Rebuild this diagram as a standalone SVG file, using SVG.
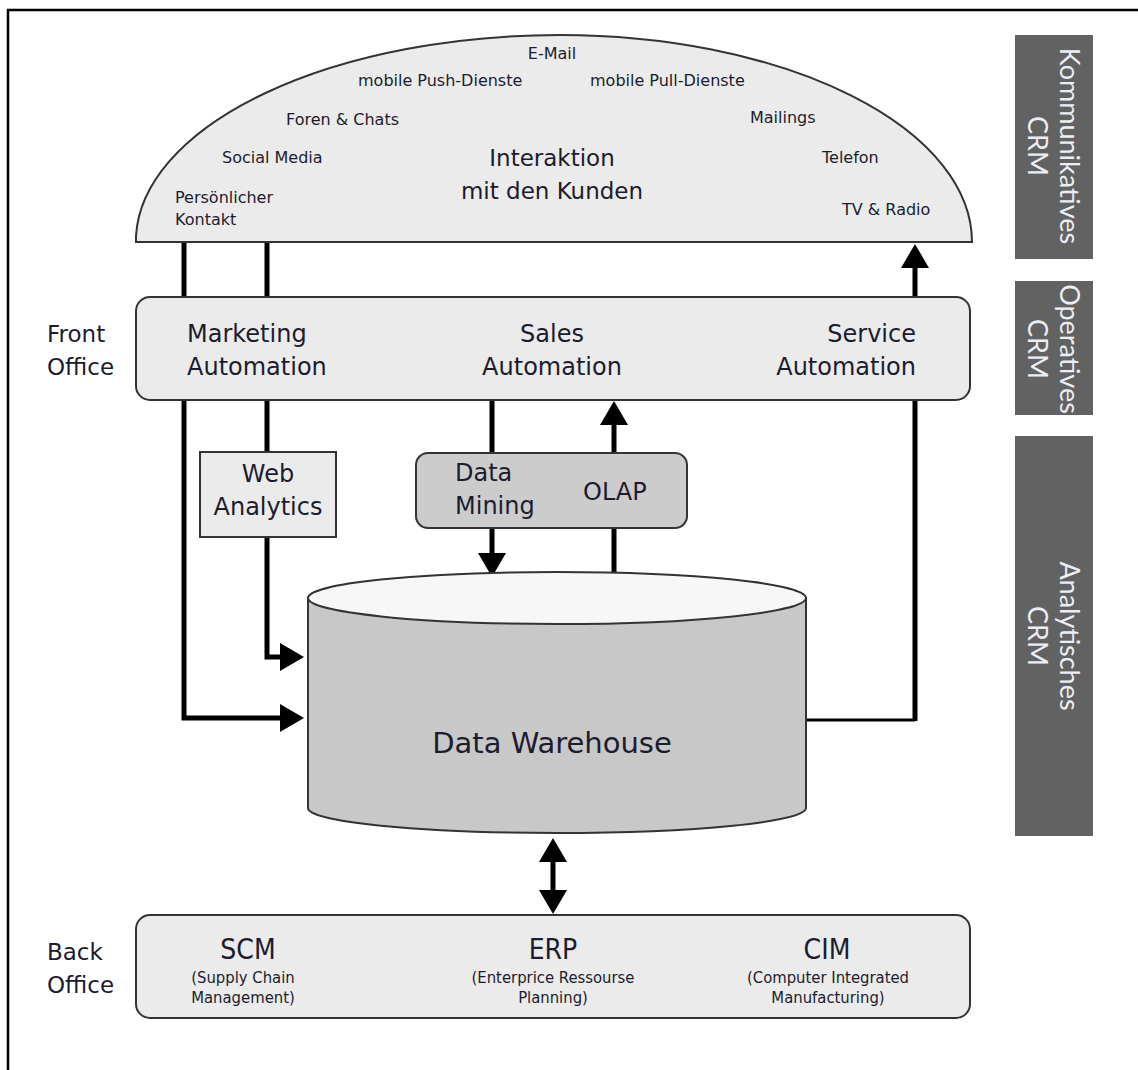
<svg xmlns="http://www.w3.org/2000/svg" width="1138" height="1070" viewBox="0 0 1138 1070">
<style>
.box{fill:#ebebeb;stroke:#333;stroke-width:2}
.dark{fill:#cccccc;stroke:#333;stroke-width:2}
.t{font-family:"DejaVu Sans",Verdana,sans-serif;fill:#1c1c2e}
.sm{font-size:16px}
.md{font-size:24px}
.bar{fill:#626262}
.bt{font-family:Lato,"Open Sans",sans-serif;font-size:27px;fill:#eceef4;text-anchor:middle}
.cn{font-family:"DejaVu Sans Condensed","DejaVu Sans",sans-serif;font-stretch:condensed;fill:#1c1c2e;text-anchor:middle}
.ln{fill:none;stroke:#000;stroke-width:5;stroke-linejoin:miter}
</style>
<defs>
<marker id="ah" markerUnits="userSpaceOnUse" markerWidth="24" markerHeight="28" refX="0" refY="14" orient="auto-start-reverse">
<path d="M0,0 L24,14 L0,28 Z" fill="#000"/>
</marker>
</defs>
<rect width="1138" height="1070" fill="#fff"/>
<path d="M8,1070 V10 H1138" fill="none" stroke="#000" stroke-width="2.5"/>

<g id="connectors">
<path class="ln" d="M184,242 V718 H280" marker-end="url(#ah)"/>
<path class="ln" d="M267,242 V657 H280" marker-end="url(#ah)"/>
<path class="ln" d="M492,400 V553" marker-end="url(#ah)"/>
<path class="ln" d="M614,574 V425" marker-end="url(#ah)"/>
<path d="M806,720 H915" fill="none" stroke="#000" stroke-width="3"/>
<path class="ln" d="M915,721 V268" marker-end="url(#ah)"/>
<path class="ln" d="M553,862 V890" marker-start="url(#ah)" marker-end="url(#ah)"/>
</g>

<g id="dome">
<path class="box" d="M136,242 L136,236 A424,207 0 0 1 560,35 A412,207 0 0 1 972,242 Z"/>
<g class="t sm">
<text x="552" y="59" text-anchor="middle">E-Mail</text>
<text x="358" y="86">mobile Push-Dienste</text>
<text x="590" y="86">mobile Pull-Dienste</text>
<text x="286" y="125">Foren &amp; Chats</text>
<text x="750" y="123">Mailings</text>
<text x="222" y="163">Social Media</text>
<text x="822" y="163">Telefon</text>
<text x="175" y="203">Persönlicher</text>
<text x="175" y="225">Kontakt</text>
<text x="842" y="215">TV &amp; Radio</text>
</g>
<g class="t" font-size="23" text-anchor="middle">
<text x="552" y="166">Interaktion</text>
<text x="552" y="199">mit den Kunden</text>
</g>
</g>

<g id="front-office">
<rect class="box" x="136" y="297" width="834" height="103" rx="14"/>
<g class="t md">
<text x="47" y="342" font-size="23">Front</text>
<text x="47" y="375" font-size="23">Office</text>
<text x="187" y="342">Marketing</text>
<text x="187" y="375">Automation</text>
<text x="552" y="342" text-anchor="middle">Sales</text>
<text x="552" y="375" text-anchor="middle">Automation</text>
<text x="916" y="342" text-anchor="end">Service</text>
<text x="916" y="375" text-anchor="end">Automation</text>
</g>
</g>

<g id="web-analytics">
<rect class="box" x="200" y="452" width="136" height="85"/>
<g class="t md" text-anchor="middle">
<text x="268" y="482">Web</text>
<text x="268" y="515">Analytics</text>
</g>
</g>

<g id="data-mining-olap">
<rect class="dark" x="416" y="453" width="271" height="75" rx="12"/>
<g class="t md">
<text x="455" y="481">Data</text>
<text x="455" y="514">Mining</text>
<text x="583" y="500">OLAP</text>
</g>
</g>

<g id="data-warehouse">
<path d="M308,598 V808 A249,25 0 0 0 806,808 V598 Z" fill="#c8c8c8" stroke="#333" stroke-width="2"/>
<ellipse cx="557" cy="598" rx="249" ry="26" fill="#f7f7f7" stroke="#333" stroke-width="2"/>
<text class="t" x="552" y="753" font-size="29" text-anchor="middle">Data Warehouse</text>
</g>

<g id="back-office">
<rect class="box" x="136" y="915" width="834" height="103" rx="14"/>
<g class="t" font-size="23">
<text x="47" y="960">Back</text>
<text x="47" y="993">Office</text>
</g>
<g class="cn">
<text x="248" y="959" font-size="28">SCM</text>
<text x="243" y="983" font-size="16.5">(Supply Chain</text>
<text x="243" y="1003" font-size="16.5">Management)</text>
<text x="553" y="959" font-size="28">ERP</text>
<text x="553" y="983" font-size="16.5">(Enterprice Ressourse</text>
<text x="553" y="1003" font-size="16.5">Planning)</text>
<text x="827" y="959" font-size="28">CIM</text>
<text x="828" y="983" font-size="16.5">(Computer Integrated</text>
<text x="828" y="1003" font-size="16.5">Manufacturing)</text>
</g>
</g>

<g id="kommunikatives-crm">
<rect class="bar" x="1015" y="35" width="78" height="224"/>
<text class="bt" transform="translate(1060,146) rotate(90)"><tspan x="0" y="0">Kommunikatives</tspan><tspan x="0" dy="32">CRM</tspan></text>
</g>
<g id="operatives-crm">
<rect class="bar" x="1015" y="281" width="78" height="134"/>
<text class="bt" transform="translate(1060,349) rotate(90)"><tspan x="0" y="0">Operatives</tspan><tspan x="0" dy="32">CRM</tspan></text>
</g>
<g id="analytisches-crm">
<rect class="bar" x="1015" y="436" width="78" height="400"/>
<text class="bt" transform="translate(1060,636) rotate(90)"><tspan x="0" y="0">Analytisches</tspan><tspan x="0" dy="32">CRM</tspan></text>
</g>
</svg>
